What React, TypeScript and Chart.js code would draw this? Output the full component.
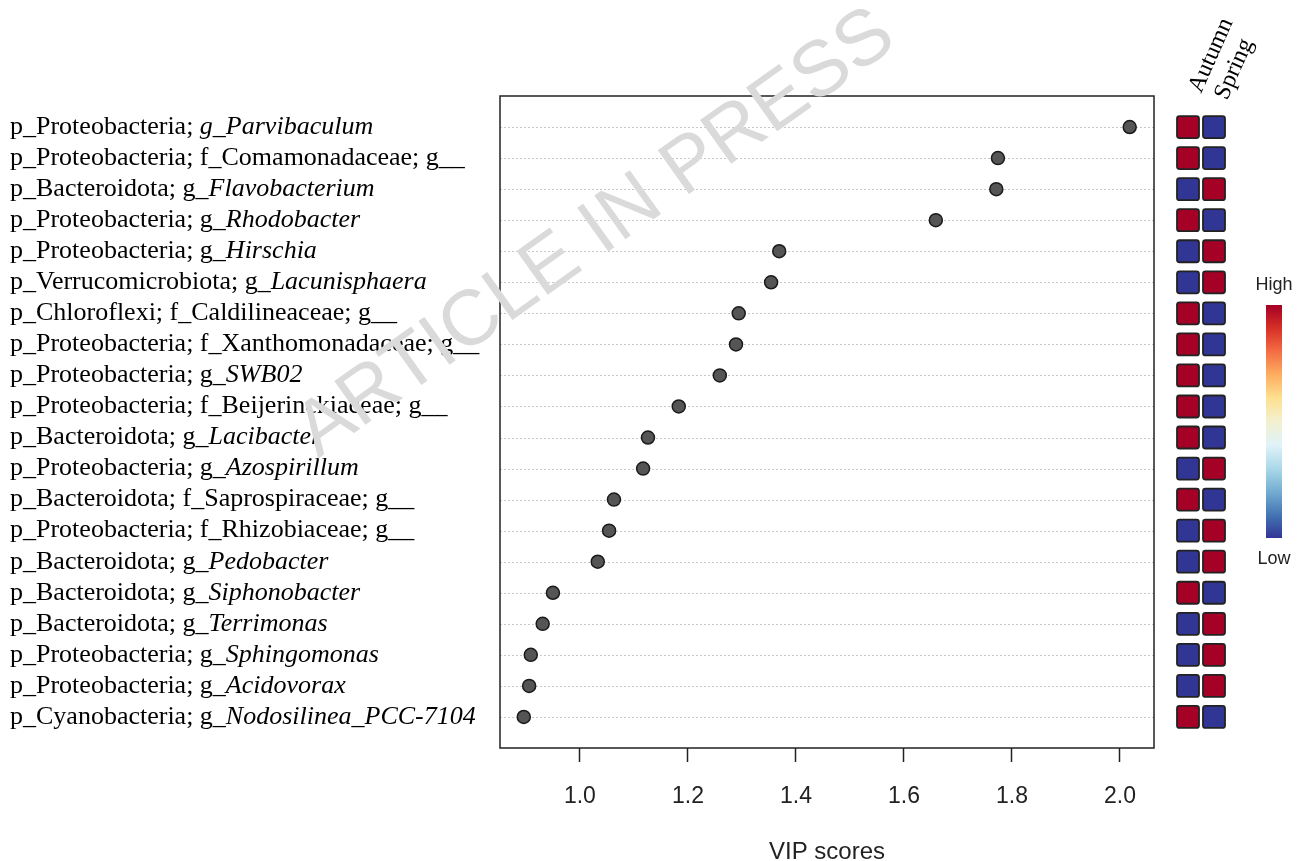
import React, { useEffect, useRef } from "react";
import { Chart, registerables } from "chart.js";

Chart.register(...registerables);

// ---------- data ----------
const taxaPrefix: string[] = [
  "p_Proteobacteria; ",
  "p_Proteobacteria; f_Comamonadaceae; g__",
  "p_Bacteroidota; g_",
  "p_Proteobacteria; g_",
  "p_Proteobacteria; g_",
  "p_Verrucomicrobiota; g_",
  "p_Chloroflexi; f_Caldilineaceae; g__",
  "p_Proteobacteria; f_Xanthomonadaceae; g__",
  "p_Proteobacteria; g_",
  "p_Proteobacteria; f_Beijerinckiaceae; g__",
  "p_Bacteroidota; g_",
  "p_Proteobacteria; g_",
  "p_Bacteroidota; f_Saprospiraceae; g__",
  "p_Proteobacteria; f_Rhizobiaceae; g__",
  "p_Bacteroidota; g_",
  "p_Bacteroidota; g_",
  "p_Bacteroidota; g_",
  "p_Proteobacteria; g_",
  "p_Proteobacteria; g_",
  "p_Cyanobacteria; g_",
];
const taxaItalic: string[] = [
  "g_Parvibaculum",
  "",
  "Flavobacterium",
  "Rhodobacter",
  "Hirschia",
  "Lacunisphaera",
  "",
  "",
  "SWB02",
  "",
  "Lacibacter",
  "Azospirillum",
  "",
  "",
  "Pedobacter",
  "Siphonobacter",
  "Terrimonas",
  "Sphingomonas",
  "Acidovorax",
  "Nodosilinea_PCC-7104",
];
const vipScores: number[] = [
  2.018, 1.774, 1.771, 1.659, 1.369, 1.354, 1.294, 1.289, 1.259, 1.183,
  1.126, 1.117, 1.063, 1.054, 1.033, 0.95, 0.931, 0.909, 0.906, 0.896,
];
// relative abundance level: 1 = High, 0 = Low
const autumnLevel: number[] = [1, 1, 0, 1, 0, 0, 1, 1, 1, 1, 1, 0, 1, 0, 0, 1, 0, 0, 0, 1];
const springLevel: number[] = [0, 0, 1, 0, 1, 1, 0, 0, 0, 0, 0, 1, 0, 1, 1, 0, 1, 1, 1, 0];
const groupNames: string[] = ["Autumn", "Spring"];
const xTicks: number[] = [1.0, 1.2, 1.4, 1.6, 1.8, 2.0];
const legendLabels: string[] = ["High", "Low"];
const watermark = "ARTICLE IN PRESS";

const HIGH = "#A50026";
const LOW = "#313695";
const RDYLBU = ["#313695", "#4575b4", "#74add1", "#abd9e9", "#e0f3f8", "#f3f0cf", "#fee090", "#fdae61", "#f46d43", "#d73027", "#a50026"];

const SERIF = '"Liberation Serif", "Times New Roman", serif';
const SANS = '"Liberation Sans", Arial, sans-serif';

export default function App() {
  const ref = useRef<HTMLCanvasElement | null>(null);

  useEffect(() => {
    document.body.style.margin = "0";
    const canvas = ref.current;
    if (!canvas) return;

    const decorations = {
      id: "decorations",
      beforeDatasetsDraw(chart: any) {
        const { ctx, chartArea } = chart;
        const y = chart.scales.y;
        ctx.save();
        ctx.strokeStyle = "#c8c8c8";
        ctx.lineWidth = 1;
        ctx.setLineDash([2, 2]);
        for (let i = 0; i < vipScores.length; i++) {
          const py = Math.round(y.getPixelForValue(i)) + 0.5;
          ctx.beginPath();
          ctx.moveTo(chartArea.left, py);
          ctx.lineTo(chartArea.right, py);
          ctx.stroke();
        }
        ctx.restore();
      },
      afterDraw(chart: any) {
        const { ctx, chartArea } = chart;
        const y = chart.scales.y;
        ctx.save();
        // box
        ctx.strokeStyle = "#222";
        ctx.lineWidth = 1.5;
        ctx.strokeRect(chartArea.left, chartArea.top, chartArea.right - chartArea.left, chartArea.bottom - chartArea.top);

        // row labels
        ctx.fillStyle = "#000";
        ctx.textBaseline = "middle";
        ctx.textAlign = "left";
        for (let i = 0; i < taxaPrefix.length; i++) {
          const py = y.getPixelForValue(i);
          ctx.font = `26px ${SERIF}`;
          ctx.fillText(taxaPrefix[i], 10, py);
          const w = ctx.measureText(taxaPrefix[i]).width;
          if (taxaItalic[i]) {
            ctx.font = `italic 26px ${SERIF}`;
            ctx.fillText(taxaItalic[i], 10 + w, py);
          }
        }

        // heatmap squares
        const size = 22;
        const colX = [chartArea.right + 23, chartArea.right + 49];
        const levels = [autumnLevel, springLevel];
        for (let c = 0; c < 2; c++) {
          for (let i = 0; i < vipScores.length; i++) {
            const py = y.getPixelForValue(i);
            ctx.beginPath();
            (ctx as any).roundRect(colX[c], py - size / 2, size, size, 2.5);
            ctx.fillStyle = levels[c][i] ? HIGH : LOW;
            ctx.fill();
            ctx.lineWidth = 1.8;
            ctx.strokeStyle = "#222";
            ctx.stroke();
          }
        }

        // group header labels
        ctx.fillStyle = "#000";
        ctx.font = `24px ${SERIF}`;
        ctx.textAlign = "left";
        ctx.textBaseline = "alphabetic";
        const headX = [colX[0] + 24, colX[1] + 24];
        const headY = [94, 101];
        for (let c = 0; c < 2; c++) {
          ctx.save();
          ctx.translate(headX[c], headY[c]);
          ctx.rotate((-66 * Math.PI) / 180);
          ctx.fillText(groupNames[c], 0, 0);
          ctx.restore();
        }

        // color bar
        const cbX = 1266, cbW = 16, cbTop = 305, cbBot = 538;
        const grad = ctx.createLinearGradient(0, cbBot, 0, cbTop);
        RDYLBU.forEach((col, k) => grad.addColorStop(k / (RDYLBU.length - 1), col));
        ctx.fillStyle = grad;
        ctx.fillRect(cbX, cbTop, cbW, cbBot - cbTop);
        ctx.fillStyle = "#222";
        ctx.font = `18px ${SANS}`;
        ctx.textAlign = "center";
        ctx.textBaseline = "middle";
        ctx.fillText(legendLabels[0], cbX + cbW / 2, 285);
        ctx.fillText(legendLabels[1], cbX + cbW / 2, 559);

        // watermark
        ctx.save();
        ctx.translate(596, 234);
        ctx.rotate((-35.5 * Math.PI) / 180);
        ctx.font = `78px ${SANS}`;
        ctx.fillStyle = "#dadada";
        ctx.textAlign = "center";
        ctx.textBaseline = "middle";
        ctx.fillText(watermark, 0, 0);
        ctx.restore();

        ctx.restore();
      },
    };

    const chart = new Chart(canvas, {
      type: "scatter",
      data: {
        datasets: [
          {
            data: vipScores.map((v, i) => ({ x: v, y: i })),
            pointRadius: 6.5,
            pointBackgroundColor: "#555555",
            pointBorderColor: "#1a1a1a",
            pointBorderWidth: 1.5,
          },
        ],
      },
      options: {
        responsive: false,
        animation: false,
        events: [],
        layout: { padding: { left: 500, right: 148, top: 96, bottom: 0 } },
        plugins: { legend: { display: false }, tooltip: { enabled: false } },
        scales: {
          x: {
            type: "linear",
            min: 0.852,
            max: 2.063,
            afterFit: (s: any) => {
              s.height = 113;
            },
            afterBuildTicks: (s: any) => {
              s.ticks = xTicks.map((v) => ({ value: v }));
            },
            border: { display: false },
            grid: {
              display: true,
              drawOnChartArea: false,
              drawTicks: true,
              tickLength: 14,
              tickColor: "#222",
              tickWidth: 1.5,
            },
            ticks: {
              padding: 21,
              color: "#222",
              font: { family: SANS, size: 23 },
              callback: (v: any) => Number(v).toFixed(1),
              maxRotation: 0,
              autoSkip: false,
            },
            title: {
              display: true,
              text: "VIP scores",
              color: "#222",
              font: { family: SANS, size: 24, lineHeight: 0.75 },
              padding: { top: 0, bottom: 0 },
            },
          },
          y: {
            type: "linear",
            min: -1,
            max: 20,
            reverse: true,
            display: true,
            afterFit: (s: any) => {
              s.width = 0;
            },
            grid: { display: false },
            border: { display: false },
            ticks: { display: false },
          },
        },
      },
      plugins: [decorations],
    });
    return () => chart.destroy();
  }, []);

  return (
    <div style={{ width: 1302, height: 861, overflow: "hidden", background: "#fff" }}>
      <canvas ref={ref} width={1302} height={861} style={{ display: "block" }} />
    </div>
  );
}
